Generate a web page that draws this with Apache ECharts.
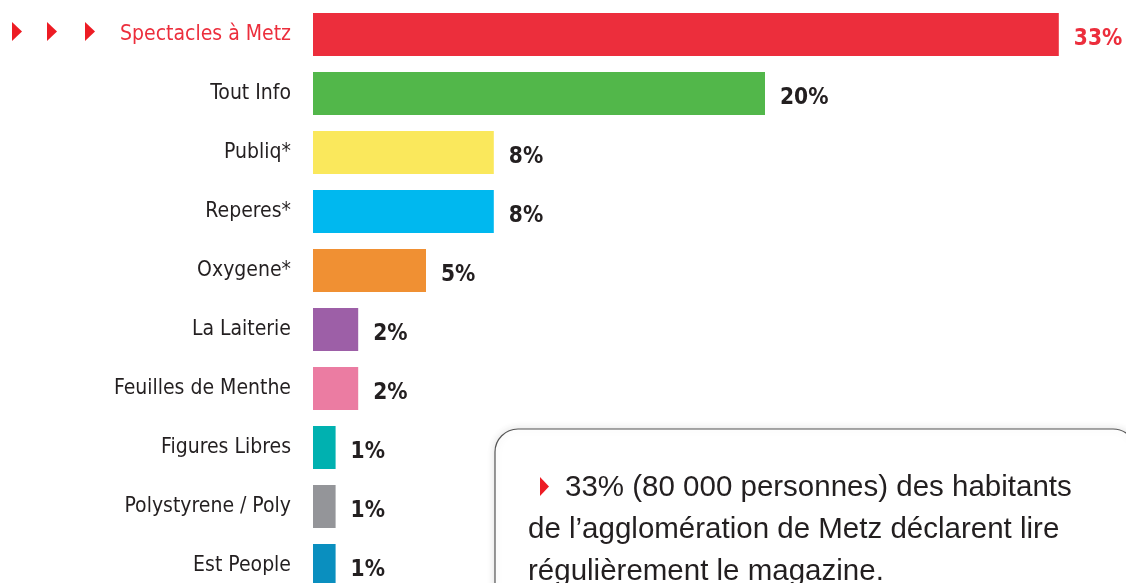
<!DOCTYPE html>
<html>
<head>
<meta charset="utf-8">
<script src="https://cdn.jsdelivr.net/npm/echarts@6/dist/echarts.min.js"></script>
<style>
	html, body { margin: 0; padding: 0; background: #ffffff; overflow: hidden; }
	/* plus haut que la fenêtre : la dernière barre est coupée en bas */
	#chart { width: 1126px; height: 610px; }
</style>
</head>
<body>
<div id="chart"></div>
<script>
	// titres et pourcentages
	var titres = ['Spectacles à Metz', 'Tout Info', 'Publiq*', 'Reperes*', 'Oxygene*',
		'La Laiterie', 'Feuilles de Menthe', 'Figures Libres', 'Polystyrene / Poly', 'Est People'];
	var pourcentages = [33, 20, 8, 8, 5, 2, 2, 1, 1, 1];
	var couleurs = ['#ec2e3c', '#52b74a', '#fae85c', '#00b8ef', '#f09033',
		'#9d5fa7', '#eb7ca2', '#00b1b0', '#949599', '#0a8fbf'];

	var rouge = '#ec2e3c';
	var noir = '#231f20';
	var narrow = '"DejaVu Sans Condensed", "Liberation Sans Narrow", sans-serif';

	var chart = echarts.init(document.getElementById('chart'));

	var barres = pourcentages.map(function(v, i) {
		return {
			value: v,
			itemStyle: { color: couleurs[i] },
			label: { color: i === 0 ? rouge : noir }
		};
	});

	// petites flèches rouges
	function fleche(x, y, w, h, z) {
		return {
			type: 'polygon',
			shape: { points: [[x, y], [x + w, y + h / 2], [x, y + h]] },
			style: { fill: '#ed1c24' },
			silent: true,
			z: z || 1
		};
	}

	var option = {
		backgroundColor: '#ffffff',
		animation: false,
		grid: { left: 313, right: 22, top: 5, height: 590, containLabel: false },
		xAxis: {
			type: 'value',
			min: 0,
			max: 35,
			show: false
		},
		yAxis: {
			type: 'category',
			inverse: true,
			data: titres,
			axisLine: { show: false },
			axisTick: { show: false },
			splitLine: { show: false },
			axisLabel: {
				margin: 22,
				fontSize: 21,
				fontFamily: narrow,
				color: function(value, index) {
					return index === 0 ? rouge : noir;
				}
			}
		},
		series: [{
			type: 'bar',
			data: barres,
			barCategoryGap: '27%',
			label: {
				show: true,
				position: 'right',
				distance: 15,
				offset: [0, 5],
				formatter: '{c}%',
				fontSize: 22.5,
				fontWeight: 'bold',
				fontFamily: narrow
			}
		}],
		graphic: [
			fleche(12, 22, 10, 19),
			fleche(47, 22, 10, 19),
			fleche(85, 22, 10, 19),
			{
				type: 'rect',
				shape: { x: 495, y: 429, width: 641, height: 200, r: 23 },
				style: {
					fill: '#ffffff',
					stroke: '#555555',
					lineWidth: 1.2,
					shadowBlur: 8,
					shadowColor: 'rgba(0,0,0,0.12)'
				},
				silent: true,
				z: 10
			},
			fleche(540, 477, 9, 19, 11),
			{
				type: 'text',
				left: 528,
				top: 467,
				z: 11,
				silent: true,
				style: {
					text: '{sp|}33% (80 000 personnes) des habitants\nde l\u2019agglomération de Metz déclarent lire\nrégulièrement le magazine.',
					fontSize: 29.5,
					lineHeight: 42,
					fontFamily: '"Liberation Sans", Arial, sans-serif',
					fill: noir,
					rich: {
						sp: { width: 37, fontSize: 29.5, lineHeight: 42 }
					}
				}
			}
		]
	};

	chart.setOption(option);
</script>
</body>
</html>
